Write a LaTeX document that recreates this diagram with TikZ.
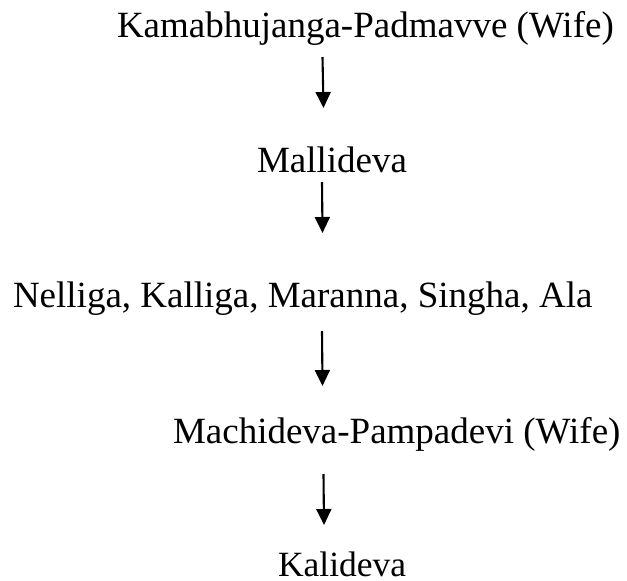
\documentclass[tikz,border=0pt]{standalone}
\usepackage{fontspec}
\setmainfont{Liberation Serif}
\usetikzlibrary{arrows.meta}
\begin{document}
\begin{tikzpicture}[x=1pt,y=-1pt,
  persontext/.style={anchor=base west,inner sep=0pt,outer sep=0pt,font=\fontsize{37}{40}\selectfont},
  link/.style={line width=2.1pt,-{Triangle[width=15pt,length=16pt]}}]
\useasboundingbox (0,0) rectangle (627,581);
\node[persontext] (t1) at (117,37) {Kamabhujanga-Padmavve (Wife)};
\node[persontext] (t2) at (257,172) {Mallideva};
\node[persontext] (t3) at (13,307) {Nelliga, Kalliga, Maranna, Singha, Ala};
\node[persontext] (t4) at (173,443) {Machideva-Pampadevi (Wife)};
\node[persontext,font=\fontsize{35.5}{38}\selectfont] (t5) at (278,576) {Kalideva};
\coordinate (a1s) at (322.5,57);  \coordinate (a1e) at (323.5,108);
\coordinate (a2s) at (322,182);   \coordinate (a2e) at (322.5,233);
\coordinate (a3s) at (322,331);   \coordinate (a3e) at (322.5,386);
\coordinate (a4s) at (323.5,474); \coordinate (a4e) at (324,525);
\draw[link] (a1s) -- (a1e);
\draw[link] (a2s) -- (a2e);
\draw[link] (a3s) -- (a3e);
\draw[link] (a4s) -- (a4e);
\end{tikzpicture}
\end{document}
